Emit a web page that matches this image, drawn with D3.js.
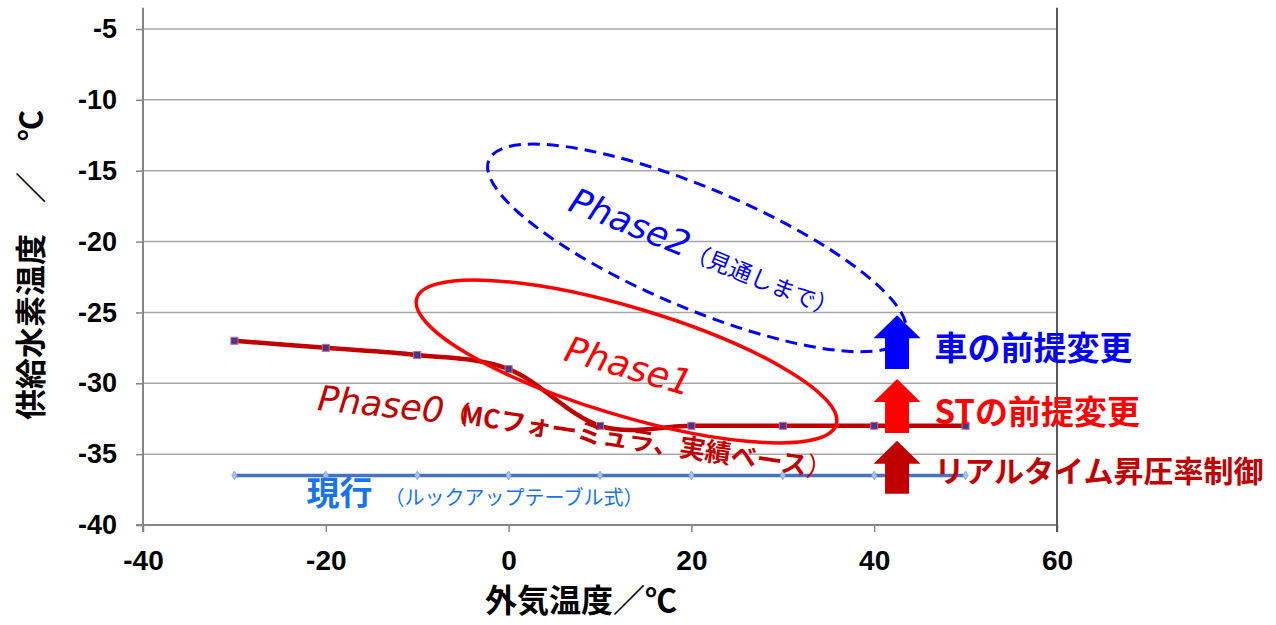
<!DOCTYPE html>
<html>
<head>
<meta charset="utf-8">
<script src="https://cdn.jsdelivr.net/npm/d3@7"></script>
<style>
  body { margin: 0; background: #fff; }
  svg { display: block; }
</style>
</head>
<body>
<svg width="1276" height="625"></svg>
<script>
const width = 1276;
const height = 625;

// outside temperature (x) and the two series
const temps = [-30, -20, -10, 0, 10, 20, 30, 40, 50];
const phase0Values = [-27, -27.5, -28, -29, -33, -33, -33, -33, -33];
const currentValues = [-36.5, -36.5, -36.5, -36.5, -36.5, -36.5, -36.5, -36.5, -36.5];

const xTicks = [-40, -20, 0, 20, 40, 60];
const yTicks = [-5, -10, -15, -20, -25, -30, -35, -40];

// annotation ovals (centre in data units)
const ovals = [
  { cx: 12.9, cy: -28.46, rx: 219, ry: 54, angle: 16.7, color: "#FF0000", dash: null },
  { cx: 20.62, cy: -20.45, rx: 226, ry: 60, angle: 22.9, color: "#0000FF", dash: "12,7" }
];

// up arrows on the right (x, top, bottom in data units)
const arrows = [
  { x: 42.5, top: -25.2, bottom: -29.0 },
  { x: 42.5, top: -29.7, bottom: -33.5 },
  { x: 42.5, top: -34.05, bottom: -37.8 }
];
const arrowLabels = [
  { text: "車の前提変更", y: -28.36 },
  { text: "STの前提変更", y: -32.87 },
  { text: "リアルタイム昇圧率制御", y: -36.97 }
];
const arrowColors = ["#0000FF", "#FF0000", "#C00000"];
const arrowFontSizes = [33, 33, 30];

const svg = d3.select("svg");

const x = d3.scaleLinear().domain([-40, 60]).range([143, 1057]);
const y = d3.scaleLinear().domain([-40, -5]).range([525, 29]);
const yTop = y(-3.5);

const latin = "'Liberation Sans', Arial, sans-serif";
const jp = "'Noto Sans CJK JP', sans-serif";
const phaseFont = "'DejaVu Sans', Verdana, sans-serif";

// grid
svg.append("g")
  .selectAll("line")
  .data(yTicks.filter(d => d > -40))
  .enter().append("line")
  .attr("x1", x(-40)).attr("x2", x(60))
  .attr("y1", d => y(d)).attr("y2", d => y(d))
  .attr("stroke", "#A6A6A6")
  .attr("stroke-width", 1.5);

// axes
const yAxis = d3.axisLeft(y).tickValues(yTicks).tickSize(7).tickFormat(d => String(d));
const gy = svg.append("g").attr("transform", "translate(" + x(-40) + ",0)").call(yAxis);
gy.select(".domain").remove();
gy.selectAll(".tick line").attr("stroke", "#868686").attr("stroke-width", 1.5);
gy.selectAll(".tick text")
  .attr("x", -26)
  .style("font-family", latin).style("font-weight", "bold").style("font-size", "27px").attr("fill", "#000");

const xAxis = d3.axisBottom(x).tickValues(xTicks).tickSize(7).tickFormat(d => String(d));
const gx = svg.append("g").attr("transform", "translate(0," + y(-40) + ")").call(xAxis);
gx.select(".domain").remove();
gx.selectAll(".tick line").attr("stroke", "#868686").attr("stroke-width", 1.5);
gx.selectAll(".tick text")
  .attr("y", 0).attr("dy", "45px")
  .style("font-family", latin).style("font-weight", "bold").style("font-size", "28px").attr("fill", "#000");

svg.append("line")
  .attr("x1", x(-40) - 7).attr("x2", x(60))
  .attr("y1", y(-40)).attr("y2", y(-40))
  .attr("stroke", "#868686").attr("stroke-width", 2);
svg.append("line")
  .attr("x1", x(-40)).attr("x2", x(-40))
  .attr("y1", yTop).attr("y2", y(-40) + 7)
  .attr("stroke", "#868686").attr("stroke-width", 2);
svg.append("line")
  .attr("x1", x(60)).attr("x2", x(60))
  .attr("y1", yTop).attr("y2", y(-40) + 7)
  .attr("stroke", "#595959").attr("stroke-width", 2);

// axis titles
svg.append("text")
  .attr("x", 581).attr("y", 612)
  .attr("text-anchor", "middle")
  .style("font-family", jp).style("font-weight", "bold").style("font-size", "32px")
  .text("外気温度／℃");

svg.append("text")
  .attr("transform", "translate(42," + 265 + ") rotate(-90)")
  .attr("text-anchor", "middle")
  .style("font-family", jp).style("font-weight", "bold").style("font-size", "31px")
  .text("供給水素温度　／　℃");

// series
const line = d3.line()
  .x((d, i) => x(temps[i]))
  .y(d => y(d))
  .curve(d3.curveCardinal.tension(0));

svg.append("path")
  .datum(currentValues)
  .attr("d", line)
  .attr("fill", "none")
  .attr("stroke", "#4472C4")
  .attr("stroke-width", 3.5);

svg.append("g")
  .selectAll("path")
  .data(currentValues)
  .enter().append("path")
  .attr("d", d3.symbol().type(d3.symbolDiamond).size(22))
  .attr("transform", (d, i) => "translate(" + x(temps[i]) + "," + y(d) + ")")
  .attr("fill", "#A9C4EB")
  .attr("stroke", "#7FA3DA")
  .attr("stroke-width", 0.8);

svg.append("path")
  .datum(phase0Values)
  .attr("d", line)
  .attr("fill", "none")
  .attr("stroke", "#C00000")
  .attr("stroke-width", 4.5);

svg.append("g")
  .selectAll("rect")
  .data(phase0Values)
  .enter().append("rect")
  .attr("x", (d, i) => x(temps[i]) - 3.5)
  .attr("y", d => y(d) - 3.5)
  .attr("width", 7).attr("height", 7)
  .attr("fill", "#3A3A96")
  .attr("stroke", "#E0606A")
  .attr("stroke-width", 1);

// arrows
const arrowG = svg.append("g");
arrows.forEach((a, i) => {
  const cx = x(a.x), t = y(a.top), b = y(a.bottom);
  const hw = 23.5, sw = 12, hh = 23;
  const pts = [
    [cx, t], [cx + hw, t + hh], [cx + sw, t + hh], [cx + sw, b],
    [cx - sw, b], [cx - sw, t + hh], [cx - hw, t + hh]
  ];
  arrowG.append("path")
    .attr("d", "M" + pts.map(p => p.join(",")).join("L") + "Z")
    .attr("fill", arrowColors[i]);
});

// ovals
svg.append("g")
  .selectAll("ellipse")
  .data(ovals)
  .enter().append("ellipse")
  .attr("transform", d => "translate(" + x(d.cx) + "," + y(d.cy) + ") rotate(" + d.angle + ")")
  .attr("rx", d => d.rx)
  .attr("ry", d => d.ry)
  .attr("fill", "none")
  .attr("stroke", d => d.color)
  .attr("stroke-width", d => d.dash ? 3 : 3.5)
  .attr("stroke-dasharray", d => d.dash);

// phase labels
const p2 = svg.append("text")
  .attr("transform", "translate(" + x(6.35) + "," + y(-17.77) + ") rotate(22)")
  .attr("fill", "#0000FF");
p2.append("tspan").style("font-family", phaseFont).style("font-style", "italic").style("font-size", "35px").text("Phase2");
p2.append("tspan").style("font-family", jp).style("font-size", "23px").text("（見通しまで）");

svg.append("text")
  .attr("transform", "translate(" + x(5.9) + "," + y(-28.36) + ") rotate(16)")
  .attr("fill", "#FF0000")
  .style("font-family", phaseFont).style("font-style", "italic").style("font-size", "36px")
  .text("Phase1");

svg.append("text")
  .attr("transform", "translate(" + x(-21) + "," + y(-31.89) + ") rotate(5.7)")
  .attr("fill", "#C00000")
  .style("font-family", phaseFont).style("font-style", "italic").style("font-size", "35px")
  .text("Phase0");

const p0 = svg.append("text")
  .attr("transform", "translate(" + x(-6.2) + "," + y(-32.75) + ") rotate(8.5)")
  .attr("fill", "#C00000")
  .style("font-family", jp).style("font-size", "26px");
p0.append("tspan").attr("dx", -10).text("（");
p0.append("tspan").attr("dx", -8).style("font-weight", "bold").text("MCフォーミュラ、実績ベース");
p0.append("tspan").text("）");

const cur = svg.append("text")
  .attr("x", x(-22.1)).attr("y", y(-38.59))
  .attr("fill", "#1874EC")
  .style("font-family", jp);
cur.append("tspan").style("font-weight", "bold").style("font-size", "33px").text("現行");
cur.append("tspan").style("font-size", "20px").attr("dx", 12).text("（ルックアップテーブル式）");

// arrow labels
svg.append("g")
  .selectAll("text")
  .data(arrowLabels)
  .enter().append("text")
  .attr("x", x(46.59))
  .attr("y", d => y(d.y))
  .attr("fill", (d, i) => arrowColors[i])
  .style("font-family", jp).style("font-weight", "bold")
  .style("font-size", (d, i) => arrowFontSizes[i] + "px")
  .text(d => d.text);
</script>
</body>
</html>
